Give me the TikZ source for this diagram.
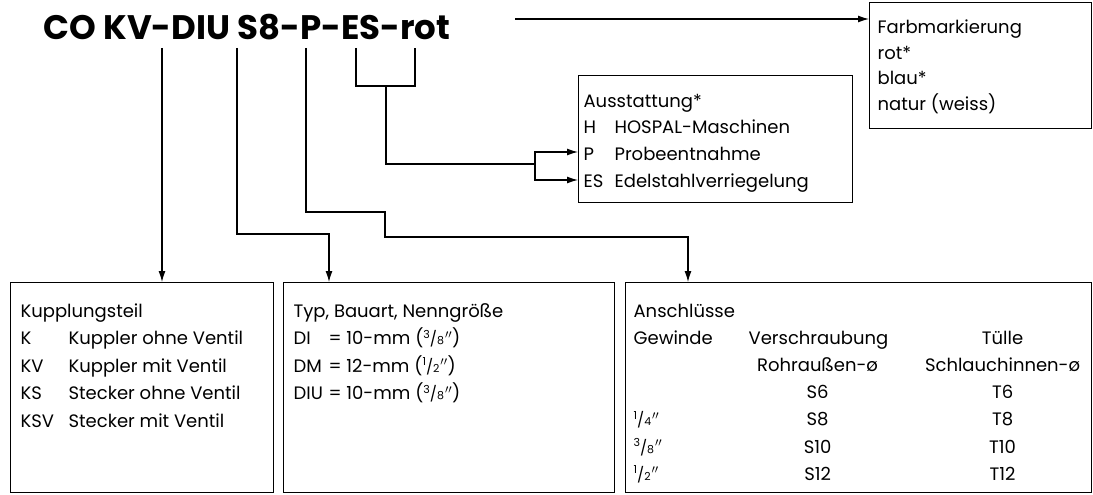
\documentclass[tikz,border=0pt]{standalone}
\usepackage{fontspec}
\usepackage{array}
\usepackage{tikz}
\usetikzlibrary{arrows.meta}
\setmainfont{Poppins}
\newcommand{\bruch}[2]{\raisebox{0.36em}{\fontsize{11}{11}\selectfont #1}{\fontsize{15}{15}\selectfont /}{\fontsize{11}{11}\selectfont #2}}
\newcommand{\zoll}{\kern1pt$''$}

\begin{document}
\begin{tikzpicture}[x=1pt,y=-1pt,>={Latex[length=11pt,width=7pt]},line width=1.2pt,
  box/.style={draw,rectangle,anchor=north west,inner sep=0pt},
  txt/.style={anchor=base west,inner sep=0pt,font=\fontsize{18}{27.5}\selectfont}]
  \useasboundingbox (0,0) rectangle (1093,495);
  % Kopf
  \node[anchor=base west,inner sep=0pt,font=\fontsize{34}{34}\selectfont\bfseries] (kopf) at (43,40) {CO KV-DIU S8-P-ES-rot};
  \coordinate (kv)  at (162,48);
  \coordinate (diu) at (237,48);
  \coordinate (s8)  at (306,48);
  \coordinate (p)   at (356,48);
  \coordinate (es)  at (415,48);
  \coordinate (rot) at (515,19);
  % Kaesten
  \node[box,minimum width=263,minimum height=210] (kupp)  at (10,282) {};
  \node[box,minimum width=331,minimum height=210] (typ)   at (283,282) {};
  \node[box,minimum width=466,minimum height=210] (ansch) at (625,282) {};
  \node[box,minimum width=274,minimum height=127] (ausst) at (578,75) {};
  \node[box,minimum width=222,minimum height=126] (farb)  at (869,2) {};
  % Texte
  \node[txt] (kupptxt) at (20,317) {\begin{tabular}[t]{@{}p{48pt}@{}l@{}}
    \multicolumn{2}{@{}l@{}}{Kupplungsteil}\\
    K & Kuppler ohne Ventil\\
    KV & Kuppler mit Ventil\\
    KS & Stecker ohne Ventil\\
    KSV & Stecker mit Ventil
  \end{tabular}};
  \node[txt] (typtxt) at (293,317) {\begin{tabular}[t]{@{}p{35pt}@{}l@{}}
    \multicolumn{2}{@{}l@{}}{Typ, Bauart, Nenngröße}\\
    DI & = 10-mm (\bruch{3}{8}\zoll)\\
    DM & = 12-mm (\bruch{1}{2}\zoll)\\
    DIU & = 10-mm (\bruch{3}{8}\zoll)
  \end{tabular}};
  \node[txt,font=\fontsize{18}{27.2}\selectfont] (anschtxt) at (633,317) {\begin{tabular}[t]{@{}p{115pt}@{}>{\centering\arraybackslash}p{138pt}@{\hspace{34pt}}>{\centering\arraybackslash}p{164pt}@{}}
    \multicolumn{3}{@{}l@{}}{Anschlüsse}\\
    Gewinde & Verschraubung & Tülle\\
     & Rohraußen-ø & Schlauchinnen-ø\\
     & S6 & T6\\
    \bruch{1}{4}\zoll & S8 & T8\\
    \bruch{3}{8}\zoll & S10 & T10\\
    \bruch{1}{2}\zoll & S12 & T12
  \end{tabular}};
  \node[txt,font=\fontsize{18}{26.7}\selectfont] (ausstxt) at (583,107) {\begin{tabular}[t]{@{}p{31pt}@{}l@{}}
    \multicolumn{2}{@{}l@{}}{Ausstattung*}\\
    H & HOSPAL-Maschinen\\
    P & Probeentnahme\\
    ES & Edelstahlverriegelung
  \end{tabular}};
  \node[txt,font=\fontsize{18}{25.5}\selectfont] (farbtxt) at (877,34) {\begin{tabular}[t]{@{}l@{}}
    Farbmarkierung\\
    rot*\\
    blau*\\
    natur (weiss)
  \end{tabular}};
  % Verbindungen
  \draw[->] (kv) -- (kv |- kupp.north);
  \draw[->] (diu) -- ++(0,186) -| ([xshift=46pt]typ.north west);
  \draw[->] (s8) -- ++(0,164) -- ++(79,0) -- ++(0,25) -| ([xshift=63pt]ansch.north west);
  \draw (p) -- ++(0,38) coordinate (klammer) -| (es);
  \draw ([xshift=30pt]klammer) |- ++(149,78) coordinate (gabel);
  \draw[->] (gabel) |- ([yshift=-77pt]ausst.north west);
  \draw[->] (gabel) |- ([yshift=-105pt]ausst.north west);
  \draw[->] (rot) -- (rot -| farb.west);
\end{tikzpicture}
\end{document}
